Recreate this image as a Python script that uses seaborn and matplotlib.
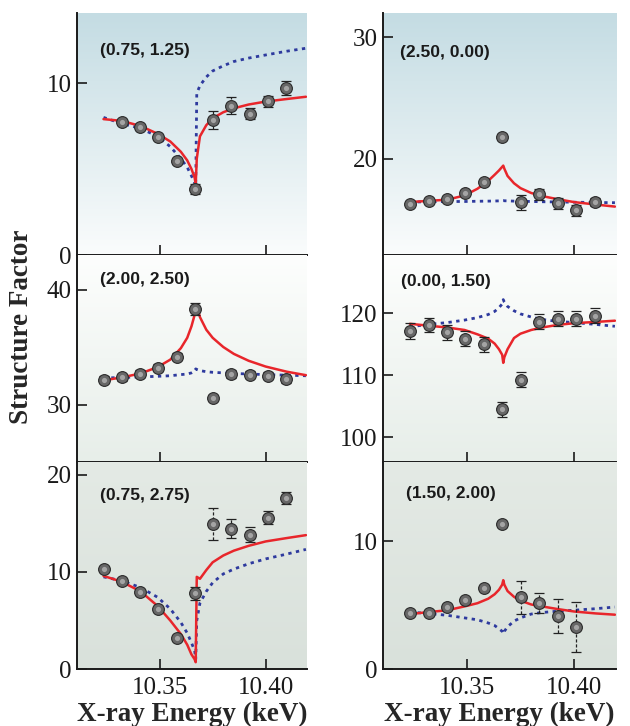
import numpy as np
import pandas as pd
import seaborn as sns
import matplotlib.pyplot as plt
from matplotlib.colors import to_rgb

sns.set_theme(style="white")
plt.rcParams['font.family'] = ['Liberation Serif', 'DejaVu Serif']

# photon energies of the measured points (keV)
energy = [10.3236, 10.3322, 10.3408, 10.3494, 10.3580, 10.3666,
          10.3752, 10.3838, 10.3924, 10.4010, 10.4096]

# energy grid of the model curves (keV)
curve_e = [10.3235, 10.332, 10.341, 10.349, 10.355, 10.360, 10.363, 10.365, 10.3665, 10.367,
           10.3675, 10.369, 10.372, 10.375, 10.380, 10.385, 10.392, 10.400, 10.410, 10.419]

# (0.75, 1.25)
p1_y = [None, 7.71, 7.42, 6.86, 5.47, 3.82, 7.85, 8.68, 8.22, 8.93, 9.69]
p1_err = [None, 0.1, 0.1, 0.1, 0.1, 0.3, 0.55, 0.5, 0.3, 0.3, 0.4]
p1_red = [7.9, 7.8, 7.5, 7.05, 6.6, 6.0, 5.5, 5.0, 4.5, 4.1,
          5.6, 6.9, 7.55, 7.95, 8.3, 8.53, 8.75, 8.92, 9.07, 9.2]
p1_blue = [8.0, 7.65, 7.36, 6.9, 6.3, 5.6, 5.1, 4.6, 4.2, 4.0,
           9.4, 9.85, 10.35, 10.7, 11.0, 11.25, 11.45, 11.63, 11.85, 12.02]

# (2.50, 0.00)
p2_y = [16.28, 16.5, 16.69, 17.2, 18.09, 21.83, 16.44, 17.1, 16.36, 15.78, 16.44]
p2_err = [0.1, 0.1, 0.1, 0.1, 0.15, 0.25, 0.6, 0.45, 0.45, 0.45, 0.35]
p2_red = [16.45, 16.55, 16.65, 17.0, 17.55, 18.2, 18.7, 19.05, 19.35, 19.45,
          19.2, 18.6, 18.0, 17.6, 17.2, 16.95, 16.7, 16.45, 16.25, 16.08]
p2_blue = [16.45, 16.48, 16.5, 16.5, 16.52, 16.53, 16.54, 16.55, 16.56, 16.57,
           16.56, 16.55, 16.53, 16.52, 16.5, 16.48, 16.46, 16.44, 16.42, 16.4]

# (2.00, 2.50)
p3_y = [32.14, 32.35, 32.66, 33.2, 34.14, 38.31, 30.6, 32.63, 32.57, 32.49, 32.2]
p3_err = [0.3, 0.3, 0.3, 0.3, 0.3, 0.5, 0.25, 0.35, 0.3, 0.3, 0.3]
p3_red = [32.1, 32.35, 32.7, 33.25, 33.9, 34.9, 35.8, 36.8, 37.8, 38.6,
          38.6, 37.6, 36.5, 35.8, 35.0, 34.4, 33.8, 33.3, 32.85, 32.55]
p3_blue = [32.3, 32.35, 32.4, 32.45, 32.5, 32.6, 32.65, 32.75, 32.9, 33.1,
           33.05, 32.95, 32.85, 32.8, 32.75, 32.7, 32.65, 32.6, 32.55, 32.5]

# (0.00, 1.50)
p4_y = [117.2, 118.1, 116.9, 115.9, 115.0, 104.5, 109.3, 118.6, 119.1, 119.1, 119.6]
p4_err = [1.3, 1.2, 1.2, 1.2, 1.2, 1.2, 1.2, 1.2, 1.2, 1.2, 1.2]
p4_red = [118.3, 118.0, 117.7, 117.3, 116.6, 115.9, 115.1, 114.2, 113.3, 112.0,
          112.9, 114.2, 116.0, 116.7, 117.3, 117.7, 118.1, 118.4, 118.6, 118.8]
p4_blue = [117.8, 118.2, 118.5, 118.9, 119.3, 119.8, 120.3, 120.9, 121.5, 122.2,
           121.8, 121.1, 120.4, 119.9, 119.4, 119.0, 118.7, 118.5, 118.2, 117.9]

# (0.75, 2.75)
p5_y = [10.34, 9.06, 7.96, 6.2, 3.2, 7.79, 14.95, 14.48, 13.86, 15.6, 17.65]
p5_err = [0.2, 0.2, 0.2, 0.2, 0.2, 0.7, 1.6, 1.0, 0.8, 0.7, 0.6]
p5_red = [9.6, 9.0, 8.0, 6.5, 5.0, 3.6, 2.5, 1.5, 1.0, 0.7,
          9.5, 9.3, 10.2, 11.0, 11.7, 12.2, 12.7, 13.15, 13.5, 13.8]
p5_blue = [9.5, 9.1, 8.4, 7.4, 6.2, 4.8, 3.7, 2.7, 1.9, 1.0,
           5.0, 6.8, 8.0, 8.9, 9.8, 10.3, 10.85, 11.35, 11.85, 12.33]

# (1.50, 2.00)
p6_y = [4.36, 4.41, 4.83, 5.4, 6.34, 11.35, 5.61, 5.17, 4.15, 3.31, None]
p6_err = [0.15, 0.15, 0.15, 0.15, 0.15, 0.25, 1.3, 0.75, 1.35, 1.95, None]
p6_red = [4.3, 4.45, 4.6, 4.9, 5.15, 5.5, 5.85, 6.2, 6.6, 6.95,
          6.6, 6.1, 5.65, 5.35, 5.05, 4.9, 4.7, 4.5, 4.35, 4.25]
p6_blue = [4.45, 4.35, 4.2, 4.0, 3.85, 3.6, 3.4, 3.15, 2.95, 2.75,
           2.95, 3.3, 3.75, 4.0, 4.3, 4.42, 4.52, 4.6, 4.72, 4.85]

panels = [
    ("(0.75, 1.25)", p1_y, p1_err, p1_red, p1_blue, [0, 10], (0, 14.07)),
    ("(2.50, 0.00)", p2_y, p2_err, p2_red, p2_blue, [20, 30], (12.1, 32.0)),
    ("(2.00, 2.50)", p3_y, p3_err, p3_red, p3_blue, [30, 40], (25.0, 43.0)),
    ("(0.00, 1.50)", p4_y, p4_err, p4_red, p4_blue, [100, 110, 120], (96.0, 129.4)),
    ("(0.75, 2.75)", p5_y, p5_err, p5_red, p5_blue, [0, 10, 20], (0, 21.34)),
    ("(1.50, 2.00)", p6_y, p6_err, p6_red, p6_blue, [0, 10], (0, 16.2)),
]

W, H = 630, 726
fig = plt.figure(figsize=(W / 100, H / 100), dpi=100)

cols = [(77, 230), (383, 233)]
rows = [(13, 255), (255, 462), (462, 669)]
# background shading per row (top colour, bottom colour)
shades = [("#c4dce3", "#fafcfc"), ("#fdfefd", "#e7eee9"), ("#e4eae5", "#d9e1db")]

label_pos = [(0.10, 0.847), (0.073, 0.835), (0.10, 0.884), (0.076, 0.87), (0.10, 0.84), (0.10, 0.85)]

for i, (name, py, perr, red, blue, yt, yl) in enumerate(panels):
    r, c = i // 2, i % 2
    x0, w = cols[c]
    y0, y1 = rows[r]
    ax = fig.add_axes([x0 / W, 1 - y1 / H, w / W, (y1 - y0) / H])

    ctop, cbot = np.array(to_rgb(shades[r][0])), np.array(to_rgb(shades[r][1]))
    t = np.linspace(0, 1, 100)[:, None]
    grad = (ctop * (1 - t) + cbot * t)[:, None, :]
    ax.imshow(grad, extent=[0, 1, 0, 1], transform=ax.transAxes, aspect='auto', zorder=0)

    curves = pd.DataFrame({"E": curve_e, "red": red, "blue": blue})
    sns.lineplot(data=curves, x="E", y="blue", ax=ax, color="#2e3a9e", linestyle=(0, (1.2, 1.6)),
                 linewidth=2.0, sort=False, estimator=None, zorder=3)
    sns.lineplot(data=curves, x="E", y="red", ax=ax, color="#e8262b", linewidth=1.8,
                 sort=False, estimator=None, zorder=4)

    pts = pd.DataFrame({"E": energy, "S": py, "err": perr}).dropna()
    eb = ax.errorbar(pts["E"], pts["S"], yerr=pts["err"], fmt='none', ecolor="#222222",
                     elinewidth=0.9, capsize=3.5, capthick=0.9, zorder=5)
    eb[2][0].set_linestyle((0, (2.5, 1.5)))
    sns.scatterplot(data=pts, x="E", y="S", ax=ax, s=72, color="#676767",
                    edgecolor="#2b2b2b", linewidth=0.8, zorder=6)
    sns.scatterplot(data=pts, x="E", y="S", ax=ax, s=14, color="#a4a4a4",
                    linewidth=0, zorder=7)

    ax.set_xlim(10.311, 10.4195)
    ax.set_ylim(*yl)
    ax.set_yticks(yt)
    ax.set_xticks([10.35, 10.40])
    ax.set_ylabel("")
    ax.set_xlabel("")
    for s in ["top", "right"]:
        ax.spines[s].set_visible(False)
    for s in ["left", "bottom"]:
        ax.spines[s].set_color("#1a1a1a")
        ax.spines[s].set_linewidth(1.4)
    ax.tick_params(axis='both', direction='in', length=7, width=1.2, colors="#1a1a1a",
                   labelsize=18, pad=3, left=True, bottom=True)
    ax.tick_params(axis='y', pad=4)
    if r < 2:
        ax.set_xticklabels([])
    else:
        ax.set_xticklabels(["10.35", "10.40"])
        ax.tick_params(axis='x', pad=6)
        ax.set_xlabel("X-ray Energy (keV)", fontsize=19.5, fontweight='bold', labelpad=2)

    ax.text(label_pos[i][0], label_pos[i][1], name, transform=ax.transAxes, ha='left',
            va='center', fontsize=12.6, fontweight='bold', family=['Liberation Sans', 'DejaVu Sans'],
            color="#1a1a1a", zorder=8)

fig.text(22 / W, 1 - 327 / H, "Structure Factor", rotation=90, ha='center', va='center',
         fontsize=19.5, fontweight='bold')

fig.savefig("out.png", dpi=100)
